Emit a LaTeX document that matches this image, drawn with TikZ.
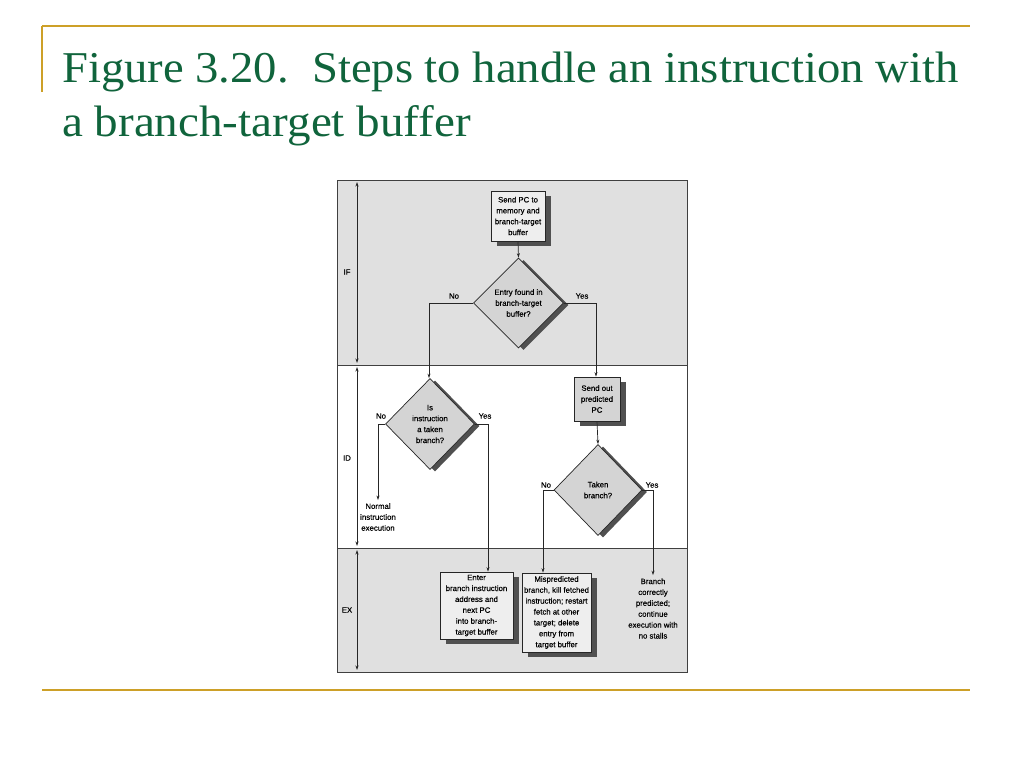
\documentclass[tikz,border=0pt]{standalone}
\usepackage{fontspec}
\setmainfont{Liberation Sans}
\newfontfamily\titlefont{Liberation Serif}
\newfontfamily\diagfont[FakeBold=0.35]{Liberation Sans}
\usetikzlibrary{shapes.geometric,arrows.meta,shadows}
\definecolor{titlegreen}{RGB}{16,100,60}
\definecolor{gold}{RGB}{205,160,40}
\definecolor{bandgray}{RGB}{224,224,224}
\definecolor{boxfill}{RGB}{238,238,238}
\definecolor{darkfill}{RGB}{212,212,212}
\definecolor{shadowcol}{RGB}{80,80,80}
\begin{document}
\begin{tikzpicture}[x=1pt,y=-1pt,
  txt/.style={font=\diagfont\fontsize{7.8}{10.9}\selectfont, align=center, inner sep=0pt},
  proc/.style={txt, draw=black!85, line width=0.7pt, fill=boxfill,
     drop shadow={shadow xshift=6pt, shadow yshift=-5pt, fill=shadowcol, opacity=1}},
  dec/.style={txt, diamond, draw=black!85, line width=0.7pt, fill=darkfill,
     drop shadow={shadow xshift=5pt, shadow yshift=-2pt, fill=shadowcol, opacity=1}},
  lbl/.style={font=\diagfont\fontsize{7.8}{10.9}\selectfont, inner sep=0pt},
  conn/.style={draw=black!85, line width=0.7pt},
  arr/.style={conn, -{Stealth[length=4.5pt,width=3pt]}},
  darr/.style={conn, {Stealth[length=4.5pt,width=3pt]}-{Stealth[length=4.5pt,width=3pt]}},
  goldline/.style={draw=gold, line width=1.6pt}
]
\useasboundingbox (0,0) rectangle (1024,768);

% slide decoration
\draw[goldline] (42,26) -- (970,26);
\draw[goldline] (42,26) -- (42,92);
\draw[goldline] (42,690) -- (970,690);

% title
\node[anchor=base west, inner sep=0pt, text=titlegreen] (t1) at (62,82)
  {\scalebox{1.06}[1]{\titlefont\fontsize{44}{50}\selectfont Figure 3.20.\ \ Steps to handle an instruction with}};
\node[anchor=base west, inner sep=0pt, text=titlegreen] (t2) at (62,136)
  {\scalebox{1.07}[1]{\titlefont\fontsize{44}{50}\selectfont a branch-target buffer}};

% bands
\fill[bandgray] (337,180) rectangle (687,365);
\fill[bandgray] (337,548) rectangle (687,672);
\draw[black!75, line width=0.8pt] (337,180) rectangle (687,672);
\draw[black!75, line width=0.8pt] (337,365) -- (687,365);
\draw[black!75, line width=0.8pt] (337,548) -- (687,548);

% stage arrows and labels
\coordinate (if1) at (357,182); \coordinate (if2) at (357,363);
\coordinate (id1) at (357,367); \coordinate (id2) at (357,546);
\coordinate (ex1) at (357,550); \coordinate (ex2) at (357,670);
\draw[darr] (if1) -- (if2);
\draw[darr] (id1) -- (id2);
\draw[darr] (ex1) -- (ex2);
\node[lbl] (lif) at (347,272) {IF};
\node[lbl] (lid) at (347,458) {ID};
\node[lbl] (lex) at (347,610) {EX};

% nodes
\node[proc, minimum width=54pt, minimum height=50pt] (b1) at (518,216)
  {Send PC to\\memory and\\branch-target\\buffer};
\node[dec, minimum width=90pt, minimum height=90pt] (d1) at (518.5,303)
  {Entry found in\\branch-target\\buffer?};
\node[proc, fill=darkfill, minimum width=46pt, minimum height=44pt] (b2) at (597,399)
  {Send out\\predicted\\PC};
\node[dec, minimum width=89pt, minimum height=91pt] (d2) at (430,424)
  {Is\\instruction\\a taken\\branch?};
\node[dec, minimum width=88pt, minimum height=91pt] (d3) at (598,490)
  {Taken\\branch?};
\node[txt, inner sep=3pt] (norm) at (378,517)
  {Normal\\instruction\\execution};
\node[proc, minimum width=73pt, minimum height=67pt] (b3) at (476.5,605.5)
  {Enter\\branch instruction\\address and\\next PC\\into branch-\\target buffer};
\node[proc, minimum width=69pt, minimum height=79pt] (b4) at (556.5,612.5)
  {Mispredicted\\branch, kill fetched\\instruction; restart\\fetch at other\\target; delete\\entry from\\target buffer};
\node[txt, inner sep=3pt] (ok) at (653,608.5)
  {Branch\\correctly\\predicted;\\continue\\execution with\\no stalls};

% labels
\node[lbl] (n1) at (454,296) {No};
\node[lbl] (y1) at (582,296) {Yes};
\node[lbl] (n2) at (381,416) {No};
\node[lbl] (y2) at (485,416) {Yes};
\node[lbl] (n3) at (546,485) {No};
\node[lbl] (y3) at (652,485) {Yes};

% connectors
\coordinate (c1) at (429,303);
\coordinate (c2) at (596,303);
\coordinate (c3) at (488,424);
\coordinate (c4) at (543,490);
\draw[arr] (b1.south) -- (d1.north);
\draw[arr] (d1.west) -- (c1) -- (c1 |- d2.north);
\draw[arr] (d1.east) -- (c2) -- (c2 |- b2.north);
\draw[arr] (b2.south) -- (d3.north);
\draw[arr] (d2.west) -| (norm.north);
\draw[arr] (d2.east) -- (c3) -- (c3 |- b3.north);
\draw[arr] (d3.west) -- (c4) -- (c4 |- b4.north);
\draw[arr] (d3.east) -| (ok.north);
\end{tikzpicture}
\end{document}
